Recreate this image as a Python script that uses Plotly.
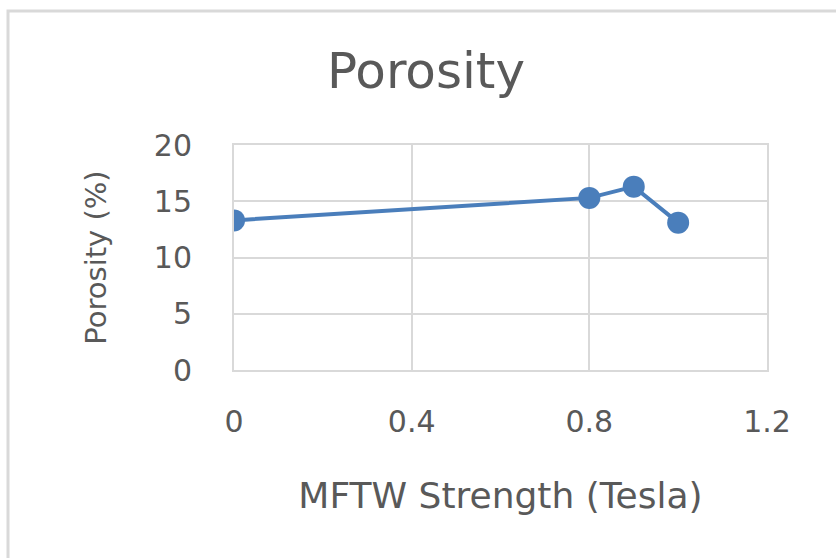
import plotly.graph_objects as go

# Porosity vs. MFTW field strength
strength_tesla = [0, 0.8, 0.9, 1.0]
porosity_pct = [13.3, 15.3, 16.3, 13.1]

x_ticks = [0, 0.4, 0.8, 1.2]
x_tick_text = ["0", "0.4", "0.8", "1.2"]
y_ticks = [0, 5, 10, 15, 20]
y_tick_text = ["0", "5", "10", "15", "20"]

W, H = 836, 558
FONT = "DejaVu Sans"
TEXT_COLOR = "#595959"
GRID = "#d9d9d9"
SERIES = "#4a7ebb"

fig = go.Figure(
    go.Scatter(
        x=strength_tesla,
        y=porosity_pct,
        mode="lines+markers",
        line=dict(color=SERIES, width=4),
        marker=dict(color=SERIES, size=22),
        showlegend=False,
    )
)

fig.update_layout(
    width=W,
    height=H,
    margin=dict(l=234, r=69, t=145, b=188),
    paper_bgcolor="white",
    plot_bgcolor="white",
    font=dict(family=FONT, color=TEXT_COLOR),
    title=dict(
        text="Porosity",
        font=dict(family=FONT, size=50, color=TEXT_COLOR),
        x=426 / W,
        xref="container",
        xanchor="center",
        y=1 - 53 / H,
        yref="container",
        yanchor="top",
    ),
    shapes=[
        dict(
            type="rect",
            xref="paper",
            yref="paper",
            x0=(8 - 234) / (W - 234 - 69),
            x1=(W + 10 - 234) / (W - 234 - 69),
            y0=(188 - (H + 10)) / (H - 145 - 188),
            y1=(H - 11 - 188) / (H - 145 - 188),
            line=dict(color=GRID, width=3),
            fillcolor="rgba(0,0,0,0)",
            layer="below",
        )
    ],
)

fig.update_xaxes(
    range=[0, 1.2],
    tickvals=x_ticks,
    ticktext=x_tick_text,
    tickfont=dict(family=FONT, size=30, color=TEXT_COLOR),
    ticklabelstandoff=24,
    showgrid=True,
    gridcolor=GRID,
    gridwidth=2,
    showline=True,
    linecolor=GRID,
    linewidth=2,
    mirror=True,
    zeroline=False,
    title=dict(
        text="MFTW Strength (Tesla)",
        font=dict(family=FONT, size=36, color=TEXT_COLOR),
        standoff=45,
    ),
)

fig.update_yaxes(
    range=[0, 20],
    tickvals=y_ticks,
    ticktext=y_tick_text,
    tickfont=dict(family=FONT, size=30, color=TEXT_COLOR),
    ticklabelstandoff=34,
    showgrid=True,
    gridcolor=GRID,
    gridwidth=2,
    showline=True,
    linecolor=GRID,
    linewidth=2,
    mirror=True,
    zeroline=False,
    title=dict(
        text="Porosity (%)",
        font=dict(family=FONT, size=29, color=TEXT_COLOR),
        standoff=39,
    ),
)

fig.write_html("out.html")
